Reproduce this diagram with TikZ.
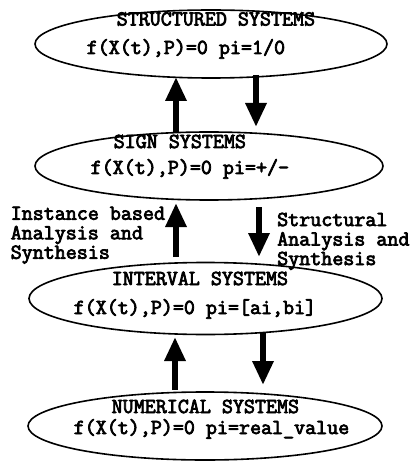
\documentclass[tikz,border=0pt]{standalone}
\usepackage{fontspec}
\setmonofont{Latin Modern Mono}[AutoFakeBold=3.5]
\usetikzlibrary{shapes.geometric,arrows.meta}
\begin{document}
\begin{tikzpicture}[x=1pt,y=-1pt,
  sys/.style={ellipse, draw, line width=1.6pt, inner sep=0pt},
  txt/.style={font=\ttfamily\bfseries\fontsize{21.4}{19.5}\selectfont, inner sep=0pt},
  ttl/.style={txt, anchor=base west},
  lbl/.style={txt, align=left, anchor=north west},
  bigarrow/.style={line width=6.5pt, -{Triangle[length=24pt,width=20pt]}}]
\useasboundingbox (0,0) rectangle (412,462);
% ellipses
\node[sys, minimum width=352pt, minimum height=68pt] (e1) at (211,44) {};
\node[sys, minimum width=348pt, minimum height=68pt] (e2) at (209,166) {};
\node[sys, minimum width=353pt, minimum height=72pt] (e3) at (205.5,298.5) {};
\node[sys, minimum width=354pt, minimum height=68pt] (e4) at (205,426) {};
% texts
\node[ttl] (t1) at (116.5,25.5) {STRUCTURED SYSTEMS};
\node[ttl] (f1) at (86.5,54) {f(X(t),P)=0 pi=1/0};
\node[ttl] (t2) at (113.5,148) {SIGN SYSTEMS};
\node[ttl] (f2) at (90.5,174) {f(X(t),P)=0 pi=+/-};
\node[ttl] (t3) at (111.5,285) {INTERVAL SYSTEMS};
\node[ttl] (f3) at (73.5,314) {f(X(t),P)=0 pi=[ai,bi]};
\node[ttl] (t4) at (111.5,413) {NUMERICAL SYSTEMS};
\node[ttl] (f4) at (73.5,434) {f(X(t),P)=0 pi=real\_value};
% side labels
\node[lbl] (ll) at (10.5,206.5) {Instance based\\Analysis and\\Synthesis};
\node[lbl] (rl) at (277,212.5) {Structural\\Analysis and\\Synthesis};
% arrow end points
\coordinate (a1) at (176,132); \coordinate (a2) at (176,77);
\coordinate (b1) at (256,75);  \coordinate (b2) at (256,127);
\coordinate (c1) at (176,257); \coordinate (c2) at (176,203);
\coordinate (d1) at (259,207); \coordinate (d2) at (259,257);
\coordinate (g1) at (175,390); \coordinate (g2) at (175,337);
\coordinate (h1) at (263,333); \coordinate (h2) at (263,385);
\draw[bigarrow] (a1) -- (a2);
\draw[bigarrow] (b1) -- (b2);
\draw[bigarrow] (c1) -- (c2);
\draw[bigarrow] (d1) -- (d2);
\draw[bigarrow] (g1) -- (g2);
\draw[bigarrow] (h1) -- (h2);
\end{tikzpicture}
\end{document}
